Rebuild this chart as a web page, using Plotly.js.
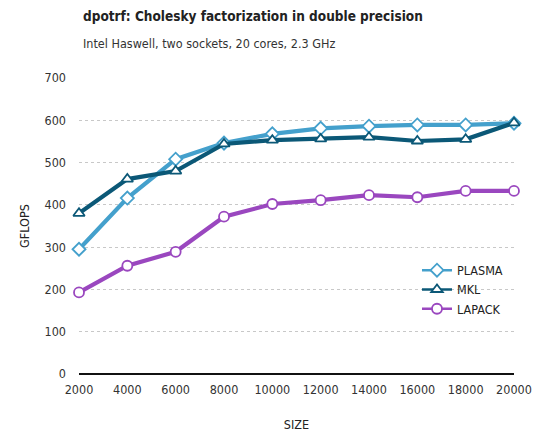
<!DOCTYPE html>
<html><head><meta charset="utf-8">
<script src="https://cdn.plot.ly/plotly-3.0.1.min.js"></script>
<style>body{margin:0;padding:0;}#chart{width:536px;height:436px;}</style>
</head><body><div id="chart"></div>
<script>
const sizes = [2000, 4000, 6000, 8000, 10000, 12000, 14000, 16000, 18000, 20000];
const plasma = [295, 416, 508, 546, 568, 581, 586, 589, 589, 593];
const mkl = [380, 461, 480, 544, 553, 556, 560, 551, 555, 594];
const lapack = [193, 256, 289, 372, 402, 411, 423, 418, 433, 433];
const xTicks = [2000, 4000, 6000, 8000, 10000, 12000, 14000, 16000, 18000, 20000];
const yTicks = [0, 100, 200, 300, 400, 500, 600, 700];
const names = ['PLASMA', 'MKL', 'LAPACK'];
const colors = ['#44a0cc', '#0b5877', '#9a47bf'];
const symbols = ['diamond', 'triangle-up', 'circle'];
const series = [plasma, mkl, lapack];

const FONT = '"DejaVu Sans Condensed", "Open Sans", sans-serif';
const data = [];
series.forEach((vals, i) => {
  data.push({x: sizes, y: vals, name: names[i], type: 'scatter', mode: 'lines+markers',
    showlegend: false,
    line: {color: colors[i], width: 4.2},
    marker: {symbol: symbols[i], size: 10, color: 'white', line: {color: colors[i], width: 1.8}},
    cliponaxis: false});
});
series.forEach((vals, i) => {
  data.push({x: [null], y: [null], name: names[i], type: 'scatter', mode: 'lines+markers',
    line: {color: colors[i], width: 2.5},
    marker: {symbol: symbols[i], size: 10, color: 'white', line: {color: colors[i], width: 1.8}}});
});
const layout = {
  width: 536, height: 436,
  margin: {l: 79, r: 22, t: 78, b: 62},
  paper_bgcolor: 'white', plot_bgcolor: 'white',
  font: {family: FONT, size: 12.5, color: '#333'},
  showlegend: true,
  legend: {x: 0.777, y: 0.40, xanchor: 'left', yanchor: 'top', font: {size: 12.5, color: '#222'},
    bgcolor: 'rgba(0,0,0,0)', tracegroupgap: 0, itemwidth: 30},
  xaxis: {range: [2000, 20000], tickvals: xTicks, ticktext: xTicks.map(String),
    showgrid: false, zeroline: false, showline: false, ticks: '', ticklabelstandoff: 6,
    title: {text: 'SIZE', font: {size: 12.5, color: '#222'}, standoff: 24}},
  yaxis: {range: [0, 700], tickvals: yTicks, ticktext: yTicks.map(String),
    showgrid: true, gridcolor: '#c8c8c8', griddash: 'dot', gridwidth: 1,
    zeroline: true, zerolinecolor: '#111', zerolinewidth: 2, showline: false, ticks: '',
    ticklabelstandoff: 12,
    title: {text: 'GFLOPS', font: {size: 12.5, color: '#222'}, standoff: 12}},
  annotations: [
    {xref: 'paper', yref: 'paper', x: 0, y: 1, xanchor: 'left', yanchor: 'bottom', xshift: 2, yshift: 52,
     text: '<b>dpotrf: Cholesky factorization in double precision</b>', showarrow: false,
     font: {size: 13.5, color: '#222', family: FONT}},
    {xref: 'paper', yref: 'paper', x: 0, y: 1, xanchor: 'left', yanchor: 'bottom', xshift: 2, yshift: 25,
     text: 'Intel Haswell, two sockets, 20 cores, 2.3 GHz', showarrow: false,
     font: {size: 12.5, color: '#333', family: FONT}}
  ]
};
Plotly.newPlot('chart', data, layout, {displayModeBar: false, staticPlot: true});
</script></body></html>
